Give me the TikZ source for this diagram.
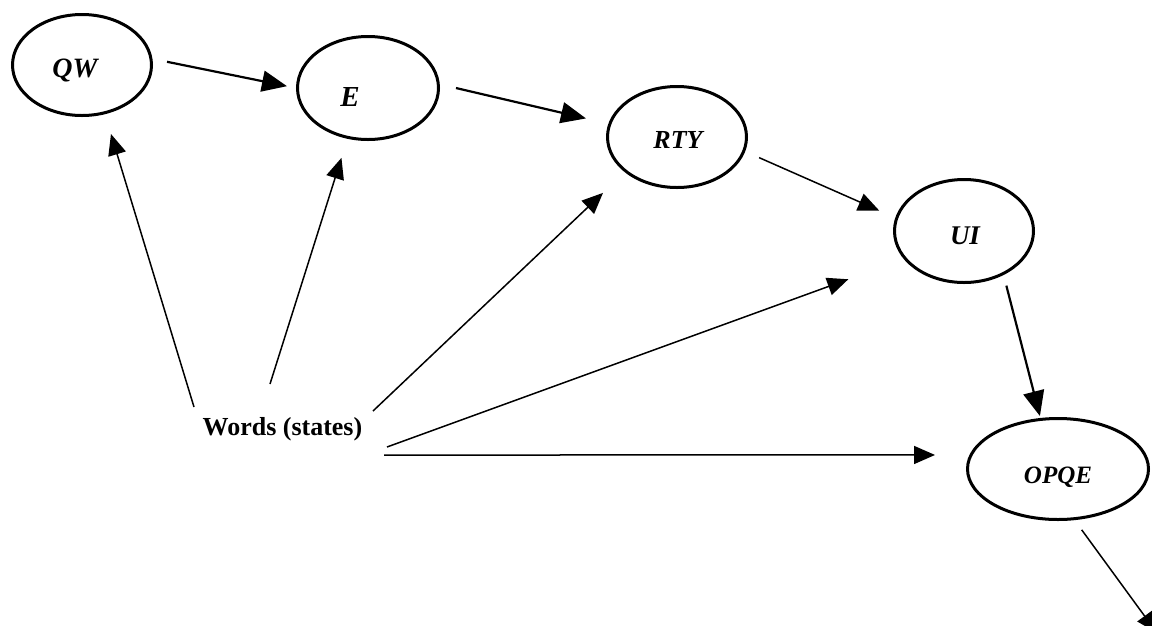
\documentclass[tikz,border=0pt]{standalone}
\usepackage{fontspec}
\setmainfont{Liberation Serif}
\usetikzlibrary{arrows.meta,shapes.geometric}
\begin{document}
\begin{tikzpicture}[x=1pt,y=-1pt,
  ell/.style={draw, line width=3pt, ellipse, inner sep=0pt, outer sep=1.5pt},
  lab/.style={font=\fontsize{#1}{#1}\selectfont\bfseries\itshape},
  bigarrow/.style={line width=2.2pt, -{Triangle[length=25pt,width=21pt]}},
  smallarrow/.style={line width=1.5pt, -{Triangle[length=21pt,width=18pt]}}
]
\useasboundingbox (0,0) rectangle (1152,625);

\node[ell, minimum width=139pt, minimum height=101pt,
  label={[lab=28, xshift=-7pt, yshift=-5pt]center:QW}] (QW) at (82,65) {};
\node[ell, minimum width=141pt, minimum height=103pt,
  label={[lab=29, xshift=-18pt, yshift=-9pt]center:E}] (E) at (368,88) {};
\node[ell, minimum width=139pt, minimum height=101pt,
  label={[lab=26, xshift=1pt, yshift=-3pt]center:RTY}] (RTY) at (677,137) {};
\node[ell, minimum width=139pt, minimum height=103pt,
  label={[lab=27, xshift=1pt, yshift=-5pt]center:UI}] (UI) at (964,231) {};
\node[ell, minimum width=181pt, minimum height=101pt,
  label={[lab=25, xshift=0pt, yshift=-8pt]center:OPQE}] (OPQE) at (1058,469) {};

\node[font=\fontsize{26}{28}\selectfont\bfseries, anchor=base, inner sep=0pt] (W) at (282.5,435) {Words (states)};

\coordinate (out) at (1157,633);

\draw[bigarrow, shorten <=14.8pt, shorten >=9.2pt] (QW.5) -- (E.180);
\draw[bigarrow, shorten <=16.6pt, shorten >=23pt] (E.3) -- (RTY.169);
\draw[smallarrow, shorten <=15.2pt, shorten >=17.6pt] (RTY.-12) -- (UI.169);
\draw[bigarrow, shorten <=11pt, shorten >=2pt] (UI.-48) -- (OPQE.109);
\draw[smallarrow, shorten <=12pt] (OPQE.-72) -- (out);

\draw[smallarrow, shorten >=20.7pt] ([shift={(-88.5,-28)}]W.base) -- (QW.-65);
\draw[smallarrow, shorten >=20pt] ([shift={(-12.5,-51)}]W.base) -- (E.248);
\draw[smallarrow, shorten >=30pt] ([shift={(90.5,-24)}]W.base) -- (RTY.214);
\draw[smallarrow, shorten >=59pt] ([shift={(104.5,12)}]W.base) -- (UI.205);
\draw[smallarrow, shorten >=34.4pt] ([shift={(101.5,20)}]W.base) -- (OPQE.171);
\end{tikzpicture}
\end{document}
